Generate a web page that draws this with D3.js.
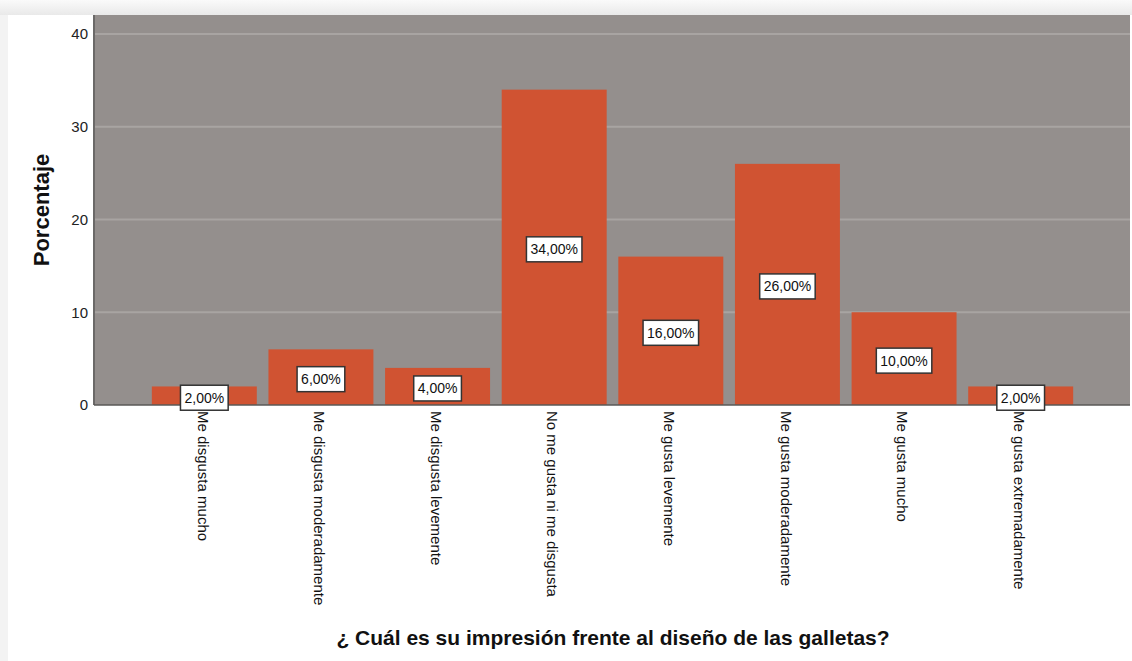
<!DOCTYPE html>
<html>
<head>
<meta charset="utf-8">
<script src="https://cdn.jsdelivr.net/npm/d3@7"></script>
<style>
  body { margin: 0; background: #f3f3f3; }
  svg { display: block; }
</style>
</head>
<body>
<script>
// data
var categories = ["Me disgusta mucho", "Me disgusta moderadamente", "Me disgusta levemente",
                  "No me gusta ni me disgusta", "Me gusta levemente", "Me gusta moderadamente",
                  "Me gusta mucho", "Me gusta extremadamente"];
var percents = [2, 6, 4, 34, 16, 26, 10, 2];
var yTicks = [0, 10, 20, 30, 40];

var W = 1132, H = 661;
var plot = {left: 94, right: 1130, top: 15, bottom: 405};
var font = "Liberation Sans, Arial, sans-serif";

var svg = d3.select("body").append("svg")
            .attr("width", W).attr("height", H);

// soft page shadow + white page
var defs = svg.append("defs");
var g1 = defs.append("linearGradient").attr("id", "topShade").attr("x1", 0).attr("y1", 0).attr("x2", 0).attr("y2", 1);
g1.append("stop").attr("offset", "0%").attr("stop-color", "#fafafa");
g1.append("stop").attr("offset", "100%").attr("stop-color", "#e9e9e9");
svg.append("rect").attr("x", 0).attr("y", 0).attr("width", W).attr("height", 15).style("fill", "url(#topShade)");
svg.append("rect").attr("x", 8).attr("y", 15).attr("width", W - 8).attr("height", H - 15).style("fill", "#fff");

var x = d3.scaleBand()
          .domain(categories)
          .range([146, 1079])
          .paddingInner(0.1)
          .paddingOuter(0.05);

var y = d3.scaleLinear()
          .domain([0, 40])
          .range([plot.bottom, plot.bottom - 40 * 9.275]);

// plot background
svg.append("rect")
   .attr("x", plot.left).attr("y", plot.top)
   .attr("width", plot.right - plot.left).attr("height", plot.bottom - plot.top)
   .style("fill", "#948f8d");

// gridlines
svg.selectAll(".grid").data(yTicks.filter(function(d){ return d > 0; }))
   .enter().append("line")
   .attr("x1", plot.left).attr("x2", plot.right)
   .attr("y1", function(d){ return y(d); }).attr("y2", function(d){ return y(d); })
   .style("stroke", "#a8a4a2").style("stroke-width", 2);

// bars
svg.selectAll(".bar").data(percents)
   .enter().append("rect")
   .attr("x", function(d, i){ return x(categories[i]); })
   .attr("y", function(d){ return y(d); })
   .attr("width", x.bandwidth())
   .attr("height", function(d){ return y(0) - y(d); })
   .style("fill", "#d05332");

// axes lines
svg.append("line").attr("x1", plot.left).attr("x2", plot.left)
   .attr("y1", plot.top).attr("y2", plot.bottom)
   .style("stroke", "#6b6968").style("stroke-width", 2);
svg.append("line").attr("x1", plot.left).attr("x2", plot.right)
   .attr("y1", plot.bottom).attr("y2", plot.bottom)
   .style("stroke", "#5a5857").style("stroke-width", 1.5);

// y tick labels
svg.selectAll(".ytick").data(yTicks)
   .enter().append("text")
   .attr("x", 88).attr("y", function(d){ return y(d); })
   .attr("dy", "0.36em")
   .attr("text-anchor", "end")
   .style("font-family", font)
   .style("font-size", "15px").style("fill", "#222")
   .text(function(d){ return d; });

// x category labels, rotated
svg.selectAll(".xlab").data(categories)
   .enter().append("text")
   .attr("transform", function(d){ return "translate(" + (x(d) + x.bandwidth()/2) + "," + 411 + ") rotate(90)"; })
   .attr("dy", "0.45em")
   .attr("text-anchor", "start")
   .style("font-family", font)
   .style("font-size", "15px").style("fill", "#111")
   .text(function(d){ return d; });

// value labels in boxes
var labs = svg.selectAll(".vlab").data(percents).enter().append("g")
   .attr("transform", function(d, i){
     return "translate(" + (x(categories[i]) + x.bandwidth()/2) + "," + (y(d/2) + 2) + ")";
   });
labs.append("text")
   .attr("text-anchor", "middle").attr("dy", "0.36em")
   .style("font-family", font)
   .style("font-size", "14px").style("fill", "#111")
   .text(function(d){ return d.toFixed(2).replace(".", ",") + "%"; });
labs.each(function(){
  var g = d3.select(this);
  var bb = g.select("text").node().getBBox();
  g.insert("rect", "text")
   .attr("x", bb.x - 4).attr("y", -12.5)
   .attr("width", bb.width + 8).attr("height", 25)
   .style("fill", "#fff").style("stroke", "#333").style("stroke-width", 1.5);
});

// axis titles
svg.append("text")
   .attr("transform", "translate(49,210) rotate(-90)")
   .attr("text-anchor", "middle")
   .style("font-family", font)
   .style("font-size", "22px").style("font-weight", "bold").style("fill", "#111")
   .text("Porcentaje");

svg.append("text")
   .attr("x", 613).attr("y", 645)
   .attr("text-anchor", "middle")
   .style("font-family", font)
   .style("font-size", "21px").style("font-weight", "bold").style("fill", "#111")
   .text("¿ Cuál es su impresión frente al diseño de las galletas?");
</script>
</body>
</html>
